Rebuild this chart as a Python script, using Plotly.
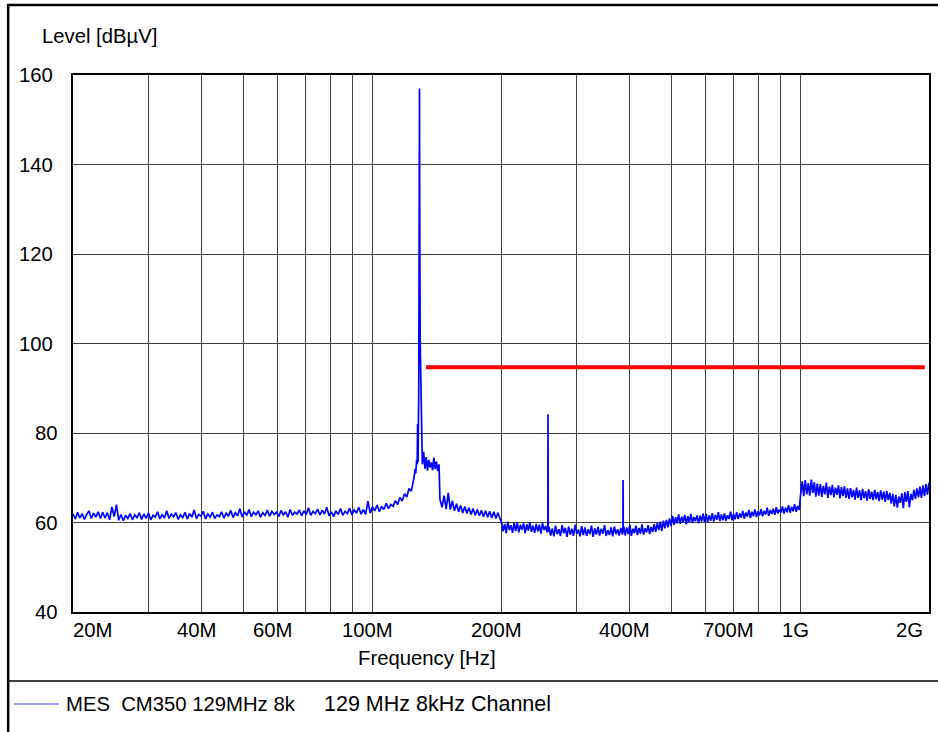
import numpy as np
import plotly.graph_objects as go

# ---------------- measured trace (levels in dBµV) ----------------
# Noise floor 20 MHz .. 125 MHz
floor_20_125 = [
    61.9, 60.8, 62.3, 61.0, 62.0, 60.7, 61.8, 62.6, 60.9, 62.1,
    61.2, 62.4, 60.9, 62.3, 61.0, 62.2, 60.6, 63.5, 61.3, 64.0,
    60.5, 61.8, 60.4, 61.6, 60.9, 62.0, 60.6, 61.7, 61.1, 62.2,
    60.7, 61.9, 60.9, 62.1, 60.6, 61.6, 61.2, 62.4, 60.8, 61.8,
    61.0, 62.6, 60.9, 61.9, 61.3, 62.2, 60.7, 61.7, 61.1, 62.3,
    60.8, 62.0, 61.2, 62.8, 60.9, 61.8, 61.4, 62.5, 60.8, 61.9,
    61.2, 62.3, 60.9, 61.7, 61.3, 62.4, 61.0, 62.1, 61.4, 62.7,
    61.1, 62.2, 61.5, 63.1, 61.2, 62.4, 61.6, 62.9, 61.3, 62.3,
    61.7, 62.6, 61.2, 62.2, 61.6, 62.8, 61.4, 62.5, 61.8, 62.3,
    61.3, 62.7, 61.7, 62.4, 61.2, 62.9, 61.6, 62.3, 61.9, 62.8,
    61.5, 62.6, 61.8, 63.3, 61.6, 62.5, 62.0, 63.0, 61.7, 62.7,
    61.9, 63.4, 61.5, 62.4, 61.3, 62.6, 61.8, 63.1, 61.6, 62.5,
    62.0, 63.2, 61.7, 62.8, 62.1, 63.4, 61.9, 62.9, 61.8, 64.8,
    62.1, 63.5, 62.6, 63.9, 62.4, 63.6, 62.9, 64.3, 63.1, 64.0,
    63.6, 64.9, 64.0, 65.6, 64.8, 66.4, 65.7, 67.6, 67.0, 69.3,
]

# Carrier at 129 MHz
carrier_freq_mhz = [125.5, 126.0, 126.5, 127.0, 127.4, 127.7, 128.0, 128.5,
                    128.8, 129.0, 129.2, 129.5, 129.8, 130.1, 130.4, 130.8]
carrier_level = [70.5, 72.0, 71.0, 74.0, 73.0, 82.0, 73.5, 90.0,
                 125.0, 157.0, 125.0, 100.0, 94.0, 93.5, 78.0, 74.5]

# Shoulder 131 .. 143 MHz
shoulder_131_143 = [73.0, 75.8, 72.0, 74.6, 71.6, 74.0, 72.3, 73.4,
                    71.7, 74.5, 72.0, 73.6, 71.5, 73.0]

# Decay 144 .. 199 MHz
decay_144_199 = [65.2, 63.4, 66.0, 63.0, 66.6, 62.9, 64.8, 62.6, 64.2, 62.4,
                 63.8, 62.1, 63.6, 62.0, 63.3, 61.8, 63.1, 61.6, 62.9, 61.5,
                 62.7, 61.3, 62.6, 61.2, 62.5, 61.0, 62.4, 60.9, 62.2, 60.8]

# 200 .. 256 MHz
band_200_256 = [60.1, 58.0, 59.7, 57.6, 60.2, 58.3, 59.4, 57.7, 59.9, 58.1,
                60.0, 57.8, 59.5, 58.4, 59.8, 57.6, 59.6, 58.2, 60.1, 57.9,
                59.3, 57.7, 59.7, 58.0, 59.5, 57.5, 59.9, 58.3, 59.2, 57.8]

# 2nd harmonic
harm2_freq_mhz = [257.3, 257.6, 257.9]
harm2_level = [58.6, 84.2, 58.0]

# 259 .. 384 MHz
band_259_384 = [59.0, 57.1, 58.7, 56.9, 59.3, 57.4, 58.5, 57.0, 59.4, 57.6,
                58.8, 56.8, 59.1, 57.3, 58.6, 57.0, 59.5, 57.5, 58.4, 56.9,
                59.2, 57.2, 58.9, 57.0, 58.5, 57.4, 59.3, 56.8, 58.7, 57.3,
                59.0, 57.1, 58.6, 57.5, 59.4, 57.0, 58.3, 57.2, 58.9, 56.9,
                59.1, 57.4, 58.5, 57.1, 58.8, 57.3]

# 3rd harmonic
harm3_freq_mhz = [385.4, 385.7, 386.0]
harm3_level = [58.0, 69.5, 57.8]

# 387 .. 995 MHz
band_387_995 = [
    59.2, 57.1, 58.9, 57.4, 59.5, 57.0, 58.6, 57.6, 59.3, 57.2,
    58.8, 57.5, 59.6, 57.3, 58.7, 57.8, 59.4, 57.4, 59.0, 57.9,
    59.6, 57.9, 59.9, 58.3, 60.2, 58.1, 60.4, 58.7, 60.6, 58.9, 60.9, 59.2,
    61.5, 59.5, 61.2, 59.8, 61.8, 59.7, 61.3, 60.1, 61.7, 59.6, 61.4,
    60.0, 61.9, 59.9, 61.2, 60.3, 61.6, 59.8, 61.5, 60.2, 62.0, 60.1,
    61.9, 60.1, 61.6, 60.4, 62.1, 60.2, 61.7, 60.6, 62.3, 60.3,
    61.8, 60.5, 62.0, 60.4, 61.6, 60.8, 62.4, 60.5, 61.9, 60.7,
    62.3, 60.8, 62.0, 61.1, 62.6, 60.9, 62.2, 61.3, 62.8, 61.0,
    62.4, 61.4, 62.9, 61.2, 62.5, 61.6, 63.0, 61.4, 62.6, 61.8,
    63.3, 61.5, 62.8, 61.9, 63.1, 61.7, 63.4, 62.0, 62.9, 62.2,
    63.6, 62.0, 63.3, 62.3, 63.9, 62.2, 63.5, 62.5, 64.1, 62.4, 63.7, 62.8,
]

# 1 GHz .. 2 GHz
band_1000_2000 = [
    66.5, 69.2, 65.9, 69.5, 66.3, 68.8, 66.0, 69.6, 66.6, 69.0, 65.8, 68.7,
    66.0, 68.6, 65.7, 68.2, 66.3, 68.9, 65.5, 68.0, 66.1, 68.4,
    65.6, 67.8, 66.2, 68.3, 65.4, 67.9, 65.9, 68.1, 65.5, 67.6,
    65.3, 67.7, 65.6, 67.3, 65.1, 67.8, 65.5, 67.2, 65.0, 67.5,
    65.4, 67.0, 64.9, 67.4, 65.3, 66.9, 65.0, 67.3, 65.2, 66.8,
    64.8, 67.2, 65.1, 66.9, 64.6, 67.0, 65.0, 66.6, 64.2, 66.4,
    63.6, 66.2, 63.3, 65.8,
    64.4, 66.5, 63.2, 66.8, 64.6, 67.0, 63.4, 66.4, 65.0, 67.3,
    65.3, 67.6, 65.6, 68.0, 65.5, 68.3, 65.9, 68.6, 66.2, 68.9,
]

# Limit line
limit_freq_mhz = [133.7, 1955.0]
limit_level = [94.7, 94.7]

# Axes
grid_freq_mhz = [30, 40, 50, 60, 70, 80, 90, 100, 200, 300, 400, 500,
                 600, 700, 800, 900, 1000]
xtick_freq_mhz = [20, 40, 60, 100, 200, 400, 700, 1000, 2000]
xtick_text = ["20M", "40M", "60M", "100M", "200M", "400M", "700M", "1G", "2G"]
ytick_vals = [40, 60, 80, 100, 120, 140, 160]

# ---------------- assemble sweep ----------------
def sweep(f0, f1, levels):
    return list(np.geomspace(f0, f1, len(levels))), list(levels)

parts = [
    sweep(20.0, 125.0, floor_20_125),
    (carrier_freq_mhz, carrier_level),
    sweep(131.0, 143.3, shoulder_131_143),
    sweep(144.0, 199.0, decay_144_199),
    sweep(200.5, 256.5, band_200_256),
    (harm2_freq_mhz, harm2_level),
    sweep(259.0, 384.5, band_259_384),
    (harm3_freq_mhz, harm3_level),
    sweep(387.0, 995.0, band_387_995),
    sweep(1003.0, 2000.0, band_1000_2000),
]
freq_mhz = []
level = []
for f, l in parts:
    freq_mhz += list(f)
    level += list(l)
freq_hz = np.array(freq_mhz) * 1e6

# ---------------- layout geometry (pixels) ----------------
W, H = 938, 732
L, R, T, B = 73, 931, 75, 612
FONT = "Liberation Sans, Arial, sans-serif"
FS = 20.3


def px(x):
    return (x - L) / (R - L)


def py(y):
    return (B - y) / (B - T)


fig = go.Figure()

fig.add_trace(go.Scatter(
    x=freq_hz, y=level, mode="lines",
    line=dict(color="#0000ff", width=1.7),
    name="MES  CM350 129MHz 8k", showlegend=False, hoverinfo="skip",
))
fig.add_trace(go.Scatter(
    x=np.array(limit_freq_mhz) * 1e6, y=limit_level, mode="lines",
    line=dict(color="#ff0000", width=4),
    showlegend=False, hoverinfo="skip",
))

fig.update_xaxes(
    type="log",
    range=[np.log10(20e6), np.log10(2e9)],
    tickvals=[f * 1e6 for f in grid_freq_mhz],
    showticklabels=False, ticks="",
    showgrid=True, gridcolor="#404040", gridwidth=1,
    showline=True, mirror=True, linecolor="black", linewidth=2,
    zeroline=False,
)
fig.update_yaxes(
    range=[40, 160],
    tickvals=ytick_vals,
    showticklabels=False, ticks="",
    showgrid=True, gridcolor="#404040", gridwidth=1,
    showline=True, mirror=True, linecolor="black", linewidth=2,
    zeroline=False,
)

annotations = []
# x tick labels
for i, (f, t) in enumerate(zip(xtick_freq_mhz, xtick_text)):
    if i == 0:
        anchor, shift = "left", -2
    elif i == len(xtick_freq_mhz) - 1:
        anchor, shift = "right", -4
    else:
        anchor, shift = "center", -5
    annotations.append(dict(
        x=np.log10(f * 1e6), xref="x", y=py(630), yref="paper",
        text=t, showarrow=False, xanchor=anchor, yanchor="middle",
        xshift=shift, font=dict(family=FONT, size=FS, color="black"),
    ))
# y tick labels
for v in ytick_vals:
    right_edge = 55 if len(str(v)) == 3 else 60
    annotations.append(dict(
        x=px(right_edge), xref="paper", y=v, yref="y",
        text=str(v), showarrow=False, xanchor="right", yanchor="middle",
        font=dict(family=FONT, size=FS, color="black"),
    ))
# axis titles
annotations.append(dict(
    x=px(40), xref="paper", y=py(36), yref="paper", text="Level [dBµV]",
    showarrow=False, xanchor="left", yanchor="middle",
    font=dict(family=FONT, size=FS, color="black"),
))
annotations.append(dict(
    x=px(428), xref="paper", y=py(658), yref="paper", text="Frequency [Hz]",
    showarrow=False, xanchor="center", yanchor="middle",
    font=dict(family=FONT, size=FS, color="black"),
))
# legend texts
annotations.append(dict(
    x=px(64), xref="paper", y=py(704), yref="paper",
    text="MES\u00a0 CM350 129MHz 8k",
    showarrow=False, xanchor="left", yanchor="middle",
    font=dict(family=FONT, size=FS, color="black"),
))
annotations.append(dict(
    x=px(323), xref="paper", y=py(704), yref="paper",
    text="129 MHz 8kHz Channel",
    showarrow=False, xanchor="left", yanchor="middle",
    font=dict(family=FONT, size=21.5, color="black"),
))

shapes = [
    # outer frame (left and top)
    dict(type="line", xref="paper", yref="paper",
         x0=px(8), x1=px(8), y0=py(4), y1=py(740),
         line=dict(color="black", width=2.5)),
    dict(type="line", xref="paper", yref="paper",
         x0=px(7), x1=px(945), y0=py(5), y1=py(5),
         line=dict(color="black", width=2.5)),
    # legend separator
    dict(type="line", xref="paper", yref="paper",
         x0=px(8), x1=px(945), y0=py(681), y1=py(681),
         line=dict(color="black", width=1.5)),
    # legend line sample
    dict(type="line", xref="paper", yref="paper",
         x0=px(14), x1=px(59), y0=py(704), y1=py(704),
         line=dict(color="#3b3bff", width=1.2)),
]

fig.update_layout(
    width=W, height=H, autosize=False,
    margin=dict(l=L, r=W - R, t=T, b=H - B, pad=0),
    paper_bgcolor="white", plot_bgcolor="white",
    showlegend=False,
    annotations=annotations,
    shapes=shapes,
    font=dict(family=FONT, size=FS, color="black"),
)

fig.write_html("out.html")
